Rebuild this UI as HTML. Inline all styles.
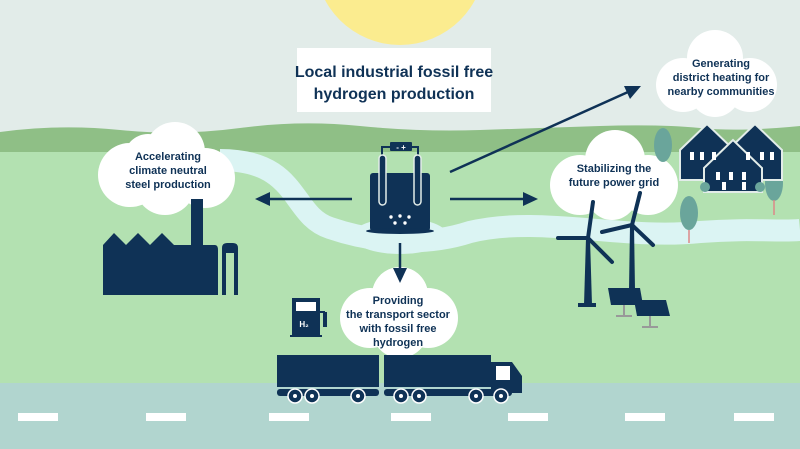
<!DOCTYPE html>
<html><head><meta charset="utf-8"><style>
html,body{margin:0;padding:0;width:800px;height:449px;overflow:hidden;background:#e2ece9}
text{font-family:"Liberation Sans",sans-serif;font-weight:bold;fill:#0f3256;text-anchor:middle}
</style></head><body>
<svg width="800" height="449" viewBox="0 0 800 449" xmlns="http://www.w3.org/2000/svg">
<rect width="800" height="449" fill="#e2ece9"/>
<circle cx="400" cy="-40" r="85" fill="#fbec8f"/>
<path d="M0 132 Q60 124 120 130 T240 128 T360 126 T480 130 T600 126 T700 128 T800 126 L800 160 L0 160Z" fill="#8fbf86"/>
<rect y="152" width="800" height="235" fill="#b3e1b1"/>
<path d="M220 160 C300 160 290 215 330 228 C380 245 430 245 470 232 C540 215 620 240 700 232 C750 228 780 232 800 230" fill="none" stroke="#dbf4f3" stroke-width="22"/>
<ellipse cx="400" cy="236" rx="48" ry="18" fill="#dbf4f3"/>
<rect y="383" width="800" height="66" fill="#b1d5cf"/>
<g fill="#fff">
<rect x="18" y="413" width="40" height="8"/><rect x="146" y="413" width="40" height="8"/><rect x="269" y="413" width="40" height="8"/><rect x="391" y="413" width="40" height="8"/><rect x="508" y="413" width="40" height="8"/><rect x="625" y="413" width="40" height="8"/><rect x="734" y="413" width="40" height="8"/>
</g>
<rect x="297" y="48" width="194" height="64" fill="#fff"/>
<text x="394" y="77" font-size="16">Local industrial fossil free</text>
<text x="394" y="99" font-size="16">hydrogen production</text>
<g fill="#fff">
<circle cx="130" cy="175" r="32"/><circle cx="175" cy="152" r="30"/><circle cx="205" cy="178" r="30"/><circle cx="165" cy="185" r="30"/><circle cx="148" cy="158" r="24"/>
<circle cx="580" cy="185" r="30"/><circle cx="615" cy="160" r="30"/><circle cx="648" cy="185" r="30"/><circle cx="612" cy="195" r="25"/>
<circle cx="683" cy="85" r="27"/><circle cx="715" cy="58" r="28"/><circle cx="750" cy="85" r="27"/><circle cx="715" cy="92" r="25"/>
<circle cx="370" cy="318" r="30"/><circle cx="400" cy="295" r="28"/><circle cx="428" cy="318" r="30"/><circle cx="400" cy="330" r="28"/>
</g>
<text x="168" y="160" font-size="11">Accelerating</text>
<text x="168" y="174" font-size="11">climate neutral</text>
<text x="168" y="188" font-size="11">steel production</text>
<text x="614" y="172" font-size="11">Stabilizing the</text>
<text x="614" y="186" font-size="11">future power grid</text>
<text x="721" y="67" font-size="11">Generating</text>
<text x="721" y="81" font-size="11">district heating for</text>
<text x="721" y="95" font-size="11">nearby communities</text>
<text x="398" y="304" font-size="11">Providing</text>
<text x="398" y="318" font-size="11">the transport sector</text>
<text x="398" y="332" font-size="11">with fossil free</text>
<text x="398" y="346" font-size="11">hydrogen</text>
<g stroke="#0f3256" stroke-width="2.5" fill="#0f3256">
<line x1="352" y1="199" x2="268" y2="199"/><polygon points="255,199 270,192 270,206" stroke="none"/>
<line x1="450" y1="199" x2="525" y2="199"/><polygon points="538,199 523,192 523,206" stroke="none"/>
<line x1="400" y1="243" x2="400" y2="270"/><polygon points="400,283 393,268 407,268" stroke="none"/>
<line x1="450" y1="172" x2="628" y2="92"/><polygon points="641,86 624,86 630,99" stroke="none"/>
</g>
<g fill="#0f3256">
<rect x="370" y="173" width="60" height="58" rx="3"/>
<ellipse cx="400" cy="231" rx="34" ry="3"/>
<rect x="390" y="142" width="22" height="9" rx="1"/>
</g>
<g fill="none" stroke="#0f3256" stroke-width="2"><path d="M382 155 V147 H390 M418 155 V147 H412"/></g>
<g fill="#0f3256" stroke="#e2ece9" stroke-width="1.5"><rect x="379" y="155" width="7" height="50" rx="3.5"/><rect x="414" y="155" width="7" height="50" rx="3.5"/></g>
<g fill="#fff"><circle cx="391" cy="217" r="1.7"/><circle cx="400" cy="216" r="1.7"/><circle cx="409" cy="217" r="1.7"/><circle cx="395" cy="223" r="1.7"/><circle cx="405" cy="223" r="1.7"/></g>
<text x="401" y="150" font-size="8" style="fill:#fff">- +</text>
<g fill="#0f3256">
<path d="M103 295 V245 L114 233 L126 245 L138 233 L150 245 L162 233 L174 245 L191 245 V199 H203 V245 H215 Q218 245 218 250 V295Z"/>
<path d="M222 295 V248 Q222 243 227 243 H233 Q238 243 238 248 V295 H234 V253 H226 V295Z"/>
</g>
<g fill="#0f3256"><rect x="292" y="298" width="28" height="38"/><rect x="290" y="335" width="32" height="2"/><path d="M320 312 h4 v14 h2 v-14" fill="none" stroke="#0f3256" stroke-width="2"/></g>
<rect x="296" y="302" width="20" height="9" fill="#fff"/>
<text x="304" y="327" font-size="8" style="fill:#fff">H₂</text>
<g fill="#0f3256">
<rect x="277" y="355" width="102" height="32"/><rect x="277" y="389" width="102" height="7" rx="3"/>
<rect x="384" y="355" width="107" height="32"/><rect x="384" y="389" width="128" height="7" rx="3"/>
<path d="M491 362 H512 L522 376 V393 H491Z"/>
</g>
<rect x="496" y="366" width="14" height="14" fill="#fff"/>
<g fill="#0f3256" stroke="#fff" stroke-width="1.5">
<circle cx="295" cy="396" r="7"/><circle cx="312" cy="396" r="7"/><circle cx="358" cy="396" r="7"/>
<circle cx="401" cy="396" r="7"/><circle cx="419" cy="396" r="7"/><circle cx="476" cy="396" r="7"/><circle cx="501" cy="396" r="7"/>
</g>
<g fill="#fff"><circle cx="295" cy="396" r="2"/><circle cx="312" cy="396" r="2"/><circle cx="358" cy="396" r="2"/><circle cx="401" cy="396" r="2"/><circle cx="419" cy="396" r="2"/><circle cx="476" cy="396" r="2"/><circle cx="501" cy="396" r="2"/></g>
<g fill="#0f3256" stroke="#0f3256">
<polygon points="586,238 590,238 592,305 584,305" stroke="none"/><rect x="578" y="303" width="18" height="4" stroke="none"/>
<line x1="588" y1="238" x2="593" y2="202" stroke-width="4" stroke-linecap="round"/>
<line x1="588" y1="238" x2="558" y2="238" stroke-width="4" stroke-linecap="round"/>
<line x1="588" y1="238" x2="612" y2="262" stroke-width="4" stroke-linecap="round"/>
<polygon points="630,225 634,225 635,290 629,290" stroke="none"/>
<line x1="632" y1="225" x2="640" y2="193" stroke-width="4" stroke-linecap="round"/>
<line x1="632" y1="225" x2="602" y2="232" stroke-width="4" stroke-linecap="round"/>
<line x1="632" y1="225" x2="653" y2="245" stroke-width="4" stroke-linecap="round"/>
</g>
<g stroke="#999" stroke-width="2"><line x1="624" y1="300" x2="624" y2="315"/><line x1="650" y1="310" x2="650" y2="326"/><line x1="616" y1="316" x2="632" y2="316"/><line x1="642" y1="327" x2="658" y2="327"/></g>
<polygon points="608,288 640,288 643,305 611,305" fill="#0f3256"/>
<polygon points="634,300 666,300 670,316 637,316" fill="#0f3256"/>
<g fill="#6aa59b"><ellipse cx="663" cy="145" rx="9" ry="17"/><ellipse cx="774" cy="183" rx="9" ry="18"/><ellipse cx="689" cy="213" rx="9" ry="17"/></g>
<g stroke="#d88" stroke-width="1.5"><line x1="774" y1="200" x2="774" y2="215"/><line x1="689" y1="230" x2="689" y2="243"/></g>
<g fill="#0f3256" stroke="#e2ece9" stroke-width="2">
<polygon points="680,150 707,124 734,150 734,180 680,180"/>
<polygon points="728,150 755,124 782,150 782,180 728,180"/>
<polygon points="704,168 733,140 762,168 762,192 704,192"/>
</g>
<g fill="#fff"><rect x="690" y="152" width="4" height="8"/><rect x="700" y="152" width="4" height="8"/><rect x="712" y="152" width="4" height="8"/><rect x="746" y="152" width="4" height="8"/><rect x="760" y="152" width="4" height="8"/><rect x="770" y="152" width="4" height="8"/><rect x="716" y="172" width="4" height="8"/><rect x="729" y="172" width="4" height="8"/><rect x="742" y="172" width="4" height="8"/><rect x="722" y="182" width="4" height="8"/><rect x="742" y="182" width="4" height="8"/></g>
<g fill="#6aa59b"><circle cx="705" cy="187" r="5"/><circle cx="760" cy="187" r="5"/></g>
</svg>
</body></html>
